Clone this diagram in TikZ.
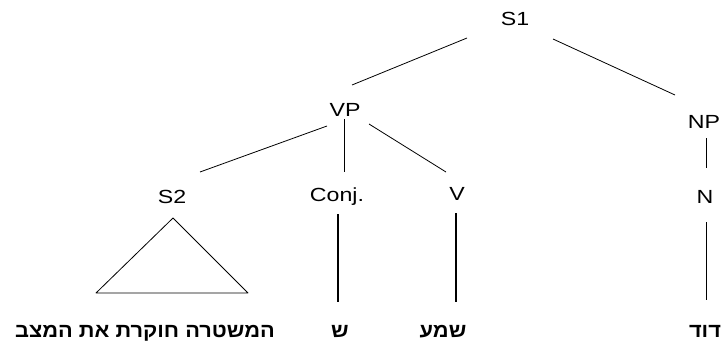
\documentclass[tikz,border=0pt]{standalone}
\usepackage{fontspec}
\setmainfont{Liberation Sans}
\newfontfamily\labfont[FakeStretch=1.22]{Liberation Sans}
\newfontfamily\hebfont[Script=Hebrew,FakeStretch=1.09]{Liberation Sans}
\TeXXeTstate=1
\usetikzlibrary{calc}
\begin{document}
\begin{tikzpicture}[x=1pt,y=-1pt,
  lab/.style={inner sep=0pt,anchor=base,font=\labfont\fontsize{19}{21}\selectfont},
  heb/.style={inner sep=0pt,anchor=base,font=\hebfont\bfseries\fontsize{20}{22}\selectfont},
  edge/.style={line width=0.8pt,black},
  thickedge/.style={line width=1.6pt,black}]
\useasboundingbox (0,0) rectangle (723,341);
% labels
\node[lab] (S1)   at (515,25)  {S1};
\node[lab] (VP)   at (345,116) {VP};
\node[lab] (NP)   at (704,128) {NP};
\node[lab] (S2)   at (172,203) {S2};
\node[lab] (Conj) at (337,201) {Conj.};
\node[lab] (V)    at (457,200) {V};
\node[lab] (N)    at (705,203) {N};
% words
\node[heb] (w1) at (145,337) {\beginR המשטרה חוקרת את המצב\endR};
\node[heb] (w2) at (340,337) {\beginR ש\endR};
\node[heb] (w3) at (443,337) {\beginR שמע\endR};
\node[heb] (w4) at (705,337) {\beginR דוד\endR};
% connectors
\draw[edge] ($(S1.base)+(-48,13)$) -- ($(VP.base)+(7,-31)$);
\draw[edge] ($(S1.base)+(38,14)$) -- ($(NP.base)+(-29,-33)$);
\draw[edge] ($(VP.base)+(-18,10)$) -- ($(S2.base)+(28,-31)$);
\draw[edge] ($(VP.base)+(-1,3)$) -- ($(Conj.base)+(7,-29)$);
\draw[edge] ($(VP.base)+(24,8)$) -- ($(V.base)+(-11,-28)$);
\draw[edge] ($(NP.base)+(2,10)$) -- ($(N.base)+(1,-35)$);
\draw[edge,line join=round] ($(S2.base)+(1,15)$) -- ($(S2.base)+(-76,90)$) -- ($(S2.base)+(76,90)$) -- cycle;
\draw[thickedge] ($(Conj.base)+(1,13)$) -- ($(w2.base)+(-2,-35)$);
\draw[thickedge] ($(V.base)+(-1,13)$) -- ($(w3.base)+(13,-35)$);
\draw[edge] ($(N.base)+(1,19)$) -- ($(w4.base)+(1,-37)$);
\end{tikzpicture}
\end{document}
